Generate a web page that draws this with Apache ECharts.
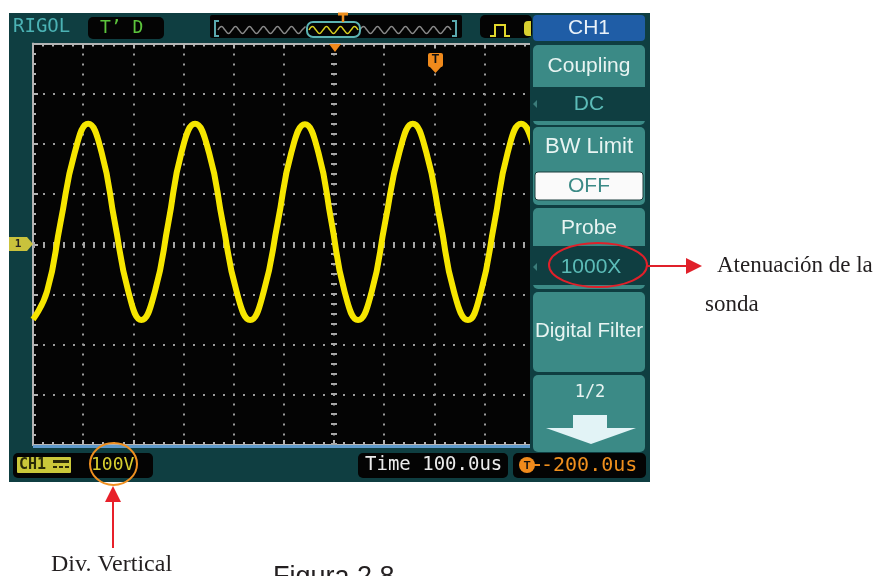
<!DOCTYPE html>
<html><head><meta charset="utf-8">
<script src="https://cdn.jsdelivr.net/npm/echarts@6/dist/echarts.min.js"></script>
<style>html,body{margin:0;padding:0;background:#fff}#c{width:883px;height:576px}</style>
</head><body><div id="c"></div>
<script>
// ---- data (time in us relative to screen centre, volts) ----
const timeUs = [-600,-572,-545,-517,-490,-463,-437,-410,-384,-357,-330,-304,-277,-249,-222,-194,-167,-140,-112,-85,-58,-31,-5,21,48,75,102,130,157,184,212,239,267,293,320,346,373,401,428,456,484,510,537,563,590,600];
const traceV = [-150,-94,44,182,240,182,44,-94,-151,-94,44,183,240,182,44,-95,-151,-94,44,183,239,182,44,-94,-151,-95,44,182,240,183,44,-94,-151,-94,44,182,240,182,44,-94,-151,-95,44,182,240,236];
const timePerDiv = 100;   // us / div
const voltPerDiv = 100;   // V / div
const hDivs = 12, vDivs = 8;
const topTexts = ['RIGOL', 'T\u2019 D'];
const menuTitles = ['CH1', 'Coupling', 'BW Limit', 'Probe', 'Digital Filter', '1/2'];
const menuValues = ['DC', 'OFF', '1000X'];
const statusTexts = ['CH1', '100V', 'Time 100.0us', '-200.0us'];
const notes = ['Atenuaci\u00f3n de la', 'sonda', 'Div. Vertical', 'Figura 2.8'];

const G = [];
function rect(x,y,w,h,fill,z,r,stroke,lw){ G.push({type:'rect',silent:true,z:z,shape:{x:x,y:y,width:w,height:h,r:r||0},style:{fill:fill,stroke:stroke||null,lineWidth:lw||0}}); }
function text(x,y,t,font,fill,align,z){ G.push({type:'text',silent:true,z:z,x:x,y:y,style:{text:t,font:font,fill:fill,textAlign:align||'left',align:align||'left',textVerticalAlign:'middle',verticalAlign:'middle'}}); }
function poly(pts,fill,z){ G.push({type:'polygon',silent:true,z:z,shape:{points:pts},style:{fill:fill}}); }
function pline(pts,stroke,w,z,smooth){ G.push({type:'polyline',silent:true,z:z,shape:{points:pts,smooth:smooth||0},style:{stroke:stroke,lineWidth:w,fill:null}}); }
function ellipse(cx,cy,rx,ry,stroke,w,z){ G.push({type:'ellipse',silent:true,z:z,shape:{cx:cx,cy:cy,rx:rx,ry:ry},style:{stroke:stroke,lineWidth:w,fill:null}}); }
function zig(x0,x1,yc,amp){ const p=[]; const ys=[0,-amp,0,amp]; let i=0; for(let x=x0;x<=x1;x+=3.5){p.push([x,yc+ys[i%4]]);i++;} return p; }

const TEAL_BG = '#0f3e41', BTN = '#3b8a86', BLACK = '#040404';
const MONO = "'DejaVu Sans Mono', monospace";
const SANS = "'Liberation Sans', Arial, sans-serif";
const SERIF = "'Liberation Serif', 'Times New Roman', serif";

// screen background (under the grid)
rect(9,13,641,469,TEAL_BG,-3);
rect(33,43,600,403,BLACK,-2);

// top bar
text(13,27,topTexts[0],"19px "+MONO,'#4bb2b4','left',60);
rect(88,17,76,22,BLACK,60,5);
text(100,28,topTexts[1],"18px "+MONO,'#5cc43c','left',61);
rect(210,15,252,23,BLACK,60,2);
pline([[219,21],[215,21],[215,36],[219,36]],'#5aa8ae',2,61);
pline([[452,21],[456,21],[456,36],[452,36]],'#5aa8ae',2,61);
pline(zig(218,307,30,3.5),'#8a8a8a',1.5,61,0.5);
pline(zig(360,452,30,3.5),'#8a8a8a',1.5,61,0.5);
pline(zig(309,358,30,3.5),'#d8d020',1.5,62,0.5);
rect(307,22,53,15,null,62,6,'#5cb4b4',2);
pline([[338,14],[348,14]],'#f0901e',3,63);
pline([[343,14],[343,22]],'#f0901e',2.5,63);
rect(480,15,52,23,BLACK,60,5);
pline([[490,36],[495,36],[495,25],[505,25],[505,36],[510,36]],'#e2d82c',2,61);
rect(524,21,7,15,'#d8d030',61,[4,0,0,4]);

// plot markers
poly([[329,44],[341,44],[335,52]],'#f08a1c',40);
rect(428,53,15,14,'#f08a1c',40,2);
poly([[429,66],[442,66],[435.5,73]],'#f08a1c',40);
text(435.5,60,'T',"bold 12px "+SANS,'#111','center',41);
poly([[9,237],[27,237],[33,244],[27,251],[9,251]],'#c9c23c',40);
text(18,244.5,'1',"bold 11px "+MONO,'#222','center',41);
rect(33,445,497,3,'#5f9acb',40);

// right menu panel
rect(530,13,120,469,TEAL_BG,50);
rect(533,15,112,26,'#1f5da6',51,4);
text(589,28,menuTitles[0],"21px "+SANS,'#e8f1f8','center',52);
// Coupling
rect(533,45,112,80,BTN,51,5);
rect(533,87,112,34,TEAL_BG,52);
text(589,66,menuTitles[1],"21px "+SANS,'#e8f4f2','center',53);
text(589,104,menuValues[0],"21px "+SANS,'#5cbcb8','center',53);
poly([[537,100],[537,108],[533,104]],'#3b7c7a',53);
// BW Limit
rect(533,127,112,78,BTN,51,5);
text(589,147,menuTitles[2],"22px "+SANS,'#e8f4f2','center',53);
rect(535,172,108,28,'#fafafa',53,3,'#1b3d3d',1);
text(589,186,menuValues[1],"21px "+SANS,'#3b8a86','center',54);
// Probe
rect(533,208,112,81,BTN,51,5);
rect(533,246,112,39,TEAL_BG,52);
text(589,228,menuTitles[3],"21px "+SANS,'#e8f4f2','center',53);
text(591,267,menuValues[2],"21px "+SANS,'#5cbcb8','center',53);
poly([[537,263],[537,271],[533,267]],'#3b7c7a',53);
// Digital Filter
rect(533,292,112,80,BTN,51,5);
text(589,331,menuTitles[4],"20.5px "+SANS,'#e8f4f2','center',53);
// 1/2 page
rect(533,375,112,77,BTN,51,5);
text(590,393,menuTitles[5],"17px "+MONO,'#e8f4f2','center',53);
poly([[573,415],[607,415],[607,428],[636,428],[591,444],[546,428],[573,428]],'#e2f3f6',53);

// status bar
rect(13,453,140,25,BLACK,60,5);
rect(17,457,54,16,'#cbc83a',61,1);
text(19,465.5,statusTexts[0],"bold 15px "+MONO,'#2a2a08','left',62);
rect(53,460,16,3,'#2a2a08',62);
rect(53,466,4,2,'#2a2a08',62); rect(59,466,4,2,'#2a2a08',62); rect(65,466,4,2,'#2a2a08',62);
text(91,465,statusTexts[1],"18px "+MONO,'#d8d030','left',61);
rect(358,453,150,25,BLACK,60,5);
text(365,465.5,statusTexts[2],"19px "+MONO,'#ececec','left',61);
rect(513,453,133,25,BLACK,60,5);
G.push({type:'circle',silent:true,z:61,shape:{cx:527,cy:465,r:8},style:{fill:'#f08a1c'}});
text(527,465.5,'T',"bold 11px "+SANS,'#111','center',62);
pline([[534,465],[540,465]],'#f08a1c',2,61);
text(541,465.5,statusTexts[3],"20px "+MONO,'#f0901e','left',61);

// annotations
ellipse(598,265,49,22,'#e0202a',2,70);
pline([[647,266],[688,266]],'#e0202a',2,70);
poly([[686,258],[686,274],[702,266]],'#e0202a',70);
text(717,266,notes[0],"23px "+SERIF,'#231f20','left',70);
text(705,305,notes[1],"23px "+SERIF,'#231f20','left',70);
ellipse(113.5,464,23.5,21,'#f09020',2,70);
pline([[113,548],[113,500]],'#e8202a',2,70);
poly([[105,502],[121,502],[113,486]],'#e8202a',70);
text(51,564.5,notes[2],"24px "+SERIF,'#231f20','left',70);
text(273,578,notes[3],"27px "+SANS,'#231f20','left',70);

const edge = {color:'#b4b4b4', width:2};
const dots = {color:'#9c9c9c', width:2, type:[2,8]};
function axisBase(extra){
  return Object.assign({
    type:'value', axisLabel:{show:false},
    axisLine:{show:true, onZero:false, lineStyle:edge},
    axisTick:{show:true, inside:true, length:5, lineStyle:edge},
    minorTick:{show:true, splitNumber:5, length:3, lineStyle:edge},
    splitLine:{show:false}
  }, extra);
}
const xMin = -hDivs/2*timePerDiv, xMax = hDivs/2*timePerDiv;
const yMin = -vDivs/2*voltPerDiv, yMax = vDivs/2*voltPerDiv;

const chart = echarts.init(document.getElementById('c'), null, {renderer:'canvas'});
chart.setOption({
  animation:false,
  backgroundColor:'#ffffff',
  grid:{left:33, top:43.5, width:602, height:401.5, show:false},
  xAxis:[
    axisBase({min:xMin, max:xMax, interval:timePerDiv, position:'bottom', splitLine:{show:true, lineStyle:dots}}),
    axisBase({min:xMin, max:xMax, interval:timePerDiv, position:'top'})
  ],
  yAxis:[
    axisBase({min:yMin, max:yMax, interval:voltPerDiv, position:'left', splitLine:{show:true, lineStyle:dots}})
  ],
  series:[
    {type:'line', name:'centre', data:[], z:1,
     markLine:{silent:true, symbol:['none','none'], label:{show:false}, z:1,
       lineStyle:{color:'#a8a8a8', width:6, type:[2,8]},
       data:[{xAxis:0},{yAxis:0}]}},
    {type:'line', name:'CH1', xAxisIndex:0, yAxisIndex:0, z:10,
     data: timeUs.map((t,i)=>[t, traceV[i]]),
     showSymbol:false, smooth:0.5, clip:true,
     lineStyle:{color:'#f6e600', width:6}}
  ],
  graphic:{elements:G}
});
</script></body></html>
